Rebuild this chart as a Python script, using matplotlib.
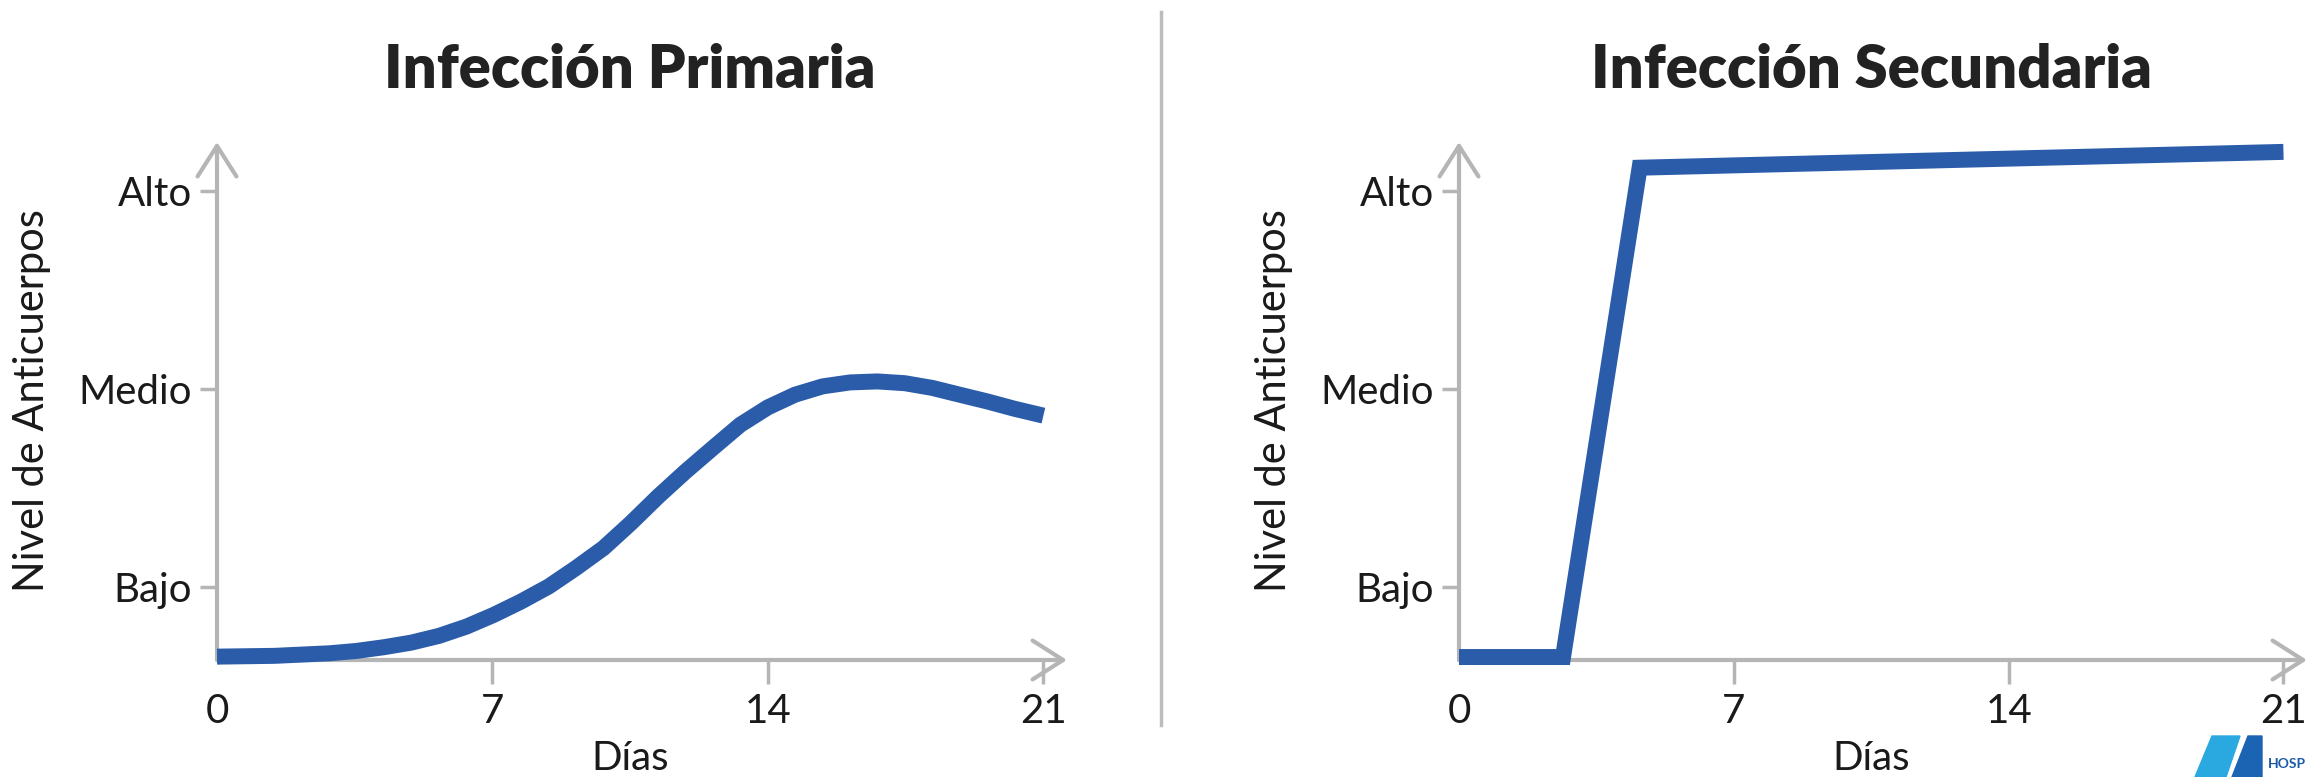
import matplotlib

matplotlib.use("Agg")
import matplotlib.pyplot as plt
import matplotlib.transforms as mtransforms
from matplotlib.patches import Polygon

# --- data ----------------------------------------------------------------------
level_ticks = [1, 2, 3]
level_labels = ["Bajo", "Medio", "Alto"]
day_ticks = [0, 7, 14, 21]
day_labels = ["0", "7", "14", "21"]

# primary infection: slow S-curve, peak ~day 17, slight decline (sampled densely)
primary_days = [0, 1.46, 2.86, 3.55, 4.25, 4.94, 5.64, 6.34, 7.03, 7.73, 8.43,
                9.12, 9.82, 10.52, 11.21, 11.91, 12.60, 13.30, 14.00, 14.69,
                15.39, 16.09, 16.78, 17.48, 18.18, 18.87, 19.57, 20.26, 21.0]
primary_level = [0.647, 0.651, 0.664, 0.676, 0.695, 0.718, 0.752, 0.799, 0.858,
                 0.926, 1.002, 1.095, 1.196, 1.323, 1.457, 1.584, 1.702, 1.820,
                 1.908, 1.972, 2.014, 2.034, 2.039, 2.030, 2.006, 1.972, 1.938,
                 1.901, 1.866]

# secondary infection: flat, steep jump, then high plateau
secondary_days = [0, 2.65, 4.6, 21]
secondary_level = [0.645, 0.645, 3.12, 3.20]

titles = ["Infección Primaria", "Infección Secundaria"]
ylabel = "Nivel de Anticuerpos"
xlabel = "Días"

# --- style -----------------------------------------------------------------------
BLUE = "#2b5caa"
GREY = "#b5b5b5"
TXT = "#1a1a1a"
plt.rcParams["font.family"] = ["Lato", "DejaVu Sans"]

W, H = 2318, 777
fig = plt.figure(figsize=(W / 100, H / 100), dpi=100)

Y0, Y1 = 0.63, 3.25
X1 = 21.6
bottom = 1 - 660 / H
top = 1 - 142 / H
panels = [(217, 1067), (1459, 2307)]
series = [(primary_days, primary_level, "round"),
          (secondary_days, secondary_level, "miter")]

for (px0, px1), (xs, ys, join), title in zip(panels, series, titles):
    ax = fig.add_axes([px0 / W, bottom, (px1 - px0) / W, top - bottom])
    ax.set_xlim(0, X1)
    ax.set_ylim(Y0, Y1)
    for s in ax.spines.values():
        s.set_visible(False)

    # axes drawn as arrows
    arrow = dict(arrowstyle="->,head_length=0.55,head_width=0.35", lw=3, color=GREY,
                 mutation_scale=40, shrinkA=0, shrinkB=0)
    ax.annotate("", xy=(1, 0), xytext=(0, 0), xycoords="axes fraction",
                arrowprops=arrow, zorder=1)
    ax.annotate("", xy=(0, 1), xytext=(0, 0), xycoords="axes fraction",
                arrowprops=arrow, zorder=1)

    ax.set_yticks(level_ticks, level_labels)
    ax.set_xticks(day_ticks, day_labels)
    ax.tick_params(axis="y", length=12, width=2.5, color=GREY, pad=6,
                   labelsize=29, labelcolor=TXT)
    ax.tick_params(axis="x", length=17, width=2.5, color=GREY, pad=7,
                   labelsize=29, labelcolor=TXT)
    ax.xaxis.get_major_ticks()[0].tick1line.set_visible(False)

    ax.plot(xs, ys, color=BLUE, lw=11.5, solid_capstyle="butt",
            solid_joinstyle=join, clip_on=False, zorder=3)

    ax.set_ylabel(ylabel, fontsize=30, color=TXT, labelpad=20)
    ax.set_xlabel(xlabel, fontsize=29, color=TXT)
    ax.xaxis.set_label_coords(10.5 / X1, -0.19)
    ax.xaxis.label.set_va("center")

    trans = mtransforms.blended_transform_factory(ax.transData, fig.transFigure)
    ax.text(10.5, 1 - 88 / H, title, transform=trans, ha="center", va="baseline",
            fontsize=43, fontweight="heavy", color="#222222")

# divider between the two panels
fig.add_artist(plt.Line2D([1161 / W, 1161 / W], [1 - 12 / H, 1 - 725 / H],
                          color="#bdbdbd", lw=2.5, transform=fig.transFigure))

# partial hospital logo, bottom-right corner
fig.add_artist(Polygon([[2195 / W, 0], [2212 / W, 1 - 736 / H], [2240 / W, 1 - 736 / H],
                        [2226 / W, 0]], closed=True, color="#29a9e0",
                       transform=fig.transFigure))
fig.add_artist(Polygon([[2232 / W, 0], [2248 / W, 1 - 736 / H], [2262 / W, 1 - 736 / H],
                        [2262 / W, 0]], closed=True, color="#1b64b4",
                       transform=fig.transFigure))
fig.text(2268 / W, 1 - 764 / H, "HOSP", fontsize=10, fontweight="bold",
         color="#1b5aa8", va="center", ha="left")

fig.savefig("out.png", dpi=100, facecolor="white")
